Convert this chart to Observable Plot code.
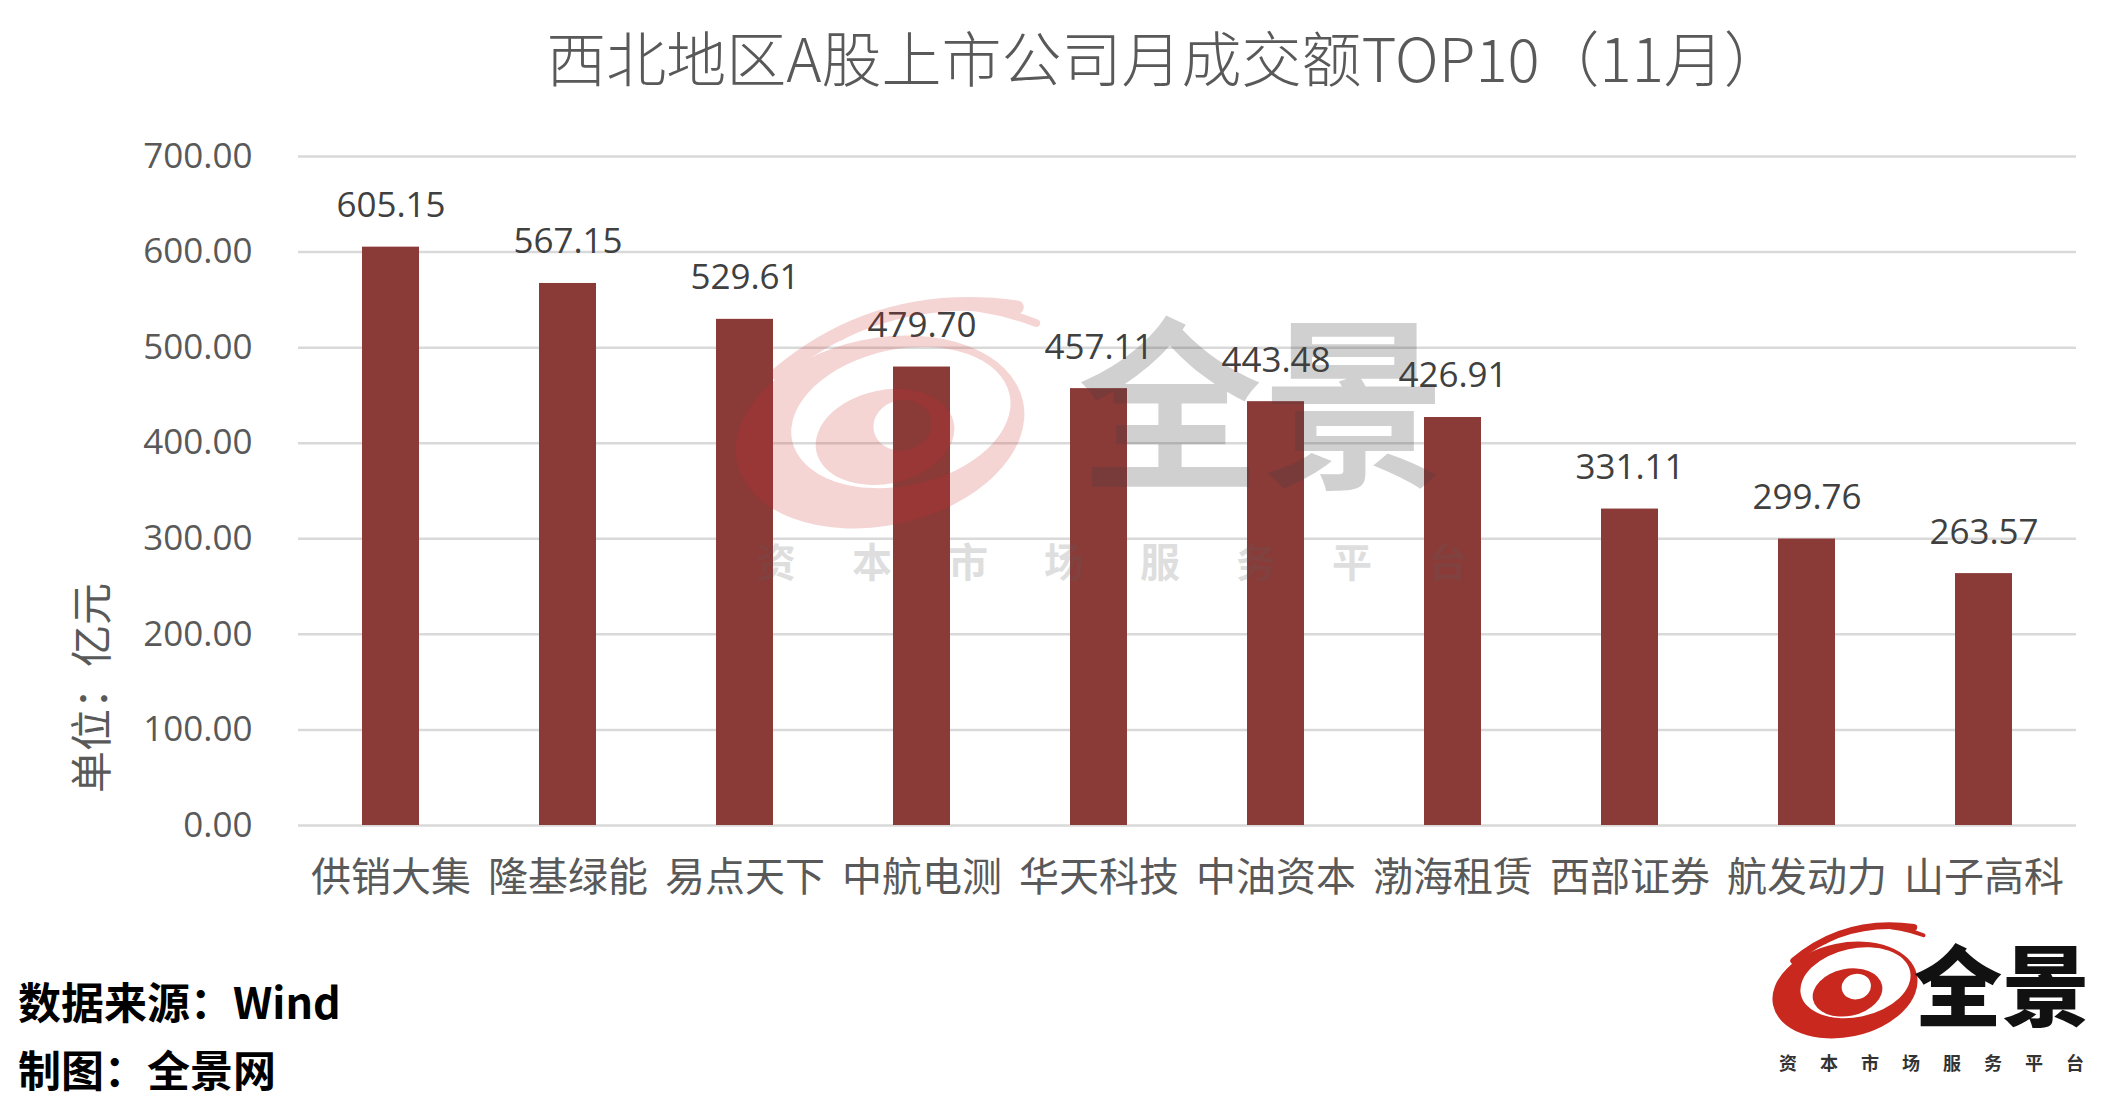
<!DOCTYPE html>
<html><head><meta charset="utf-8">
<script src="https://cdn.jsdelivr.net/npm/d3@7"></script>
<script src="https://cdn.jsdelivr.net/npm/@observablehq/plot@0.6"></script>
<style>
html,body{margin:0;padding:0;background:#fff;}
#wrap{position:relative;width:2106px;height:1100px;overflow:hidden;background:#fff;font-family:"Noto Sans CJK SC","Noto Sans",sans-serif;}
#title{position:absolute;left:1165px;top:14px;transform:translateX(-50%);white-space:nowrap;font-size:60px;color:#595959;line-height:84px;font-weight:300;}
#chart{position:absolute;left:0;top:120px;}
.foot{position:absolute;left:18px;font-weight:700;font-size:43px;color:#000;line-height:60px;}
#overlay{position:absolute;left:0;top:0;pointer-events:none;}
</style></head><body>
<div id="wrap">
  <div id="title">西北地区A股上市公司月成交额TOP10（11月）</div>
  <div id="chart"></div>
  <div class="foot" style="top:970px">数据来源：Wind</div>
  <div class="foot" style="top:1038px">制图：全景网</div>
</div>
<script>
const companies = ["供销大集","隆基绿能","易点天下","中航电测","华天科技","中油资本","渤海租赁","西部证券","航发动力","山子高科"];
const amounts = [605.15, 567.15, 529.61, 479.70, 457.11, 443.48, 426.91, 331.11, 299.76, 263.57];
const yTicks = [0, 100, 200, 300, 400, 500, 600, 700];

const data = companies.map((name, i) => ({name, value: amounts[i]}));

const chart = Plot.plot({
  width: 2106,
  height: 800,
  marginLeft: 298,
  marginRight: 30,
  marginTop: 36,
  marginBottom: 95,
  x: {domain: companies, paddingInner: 0.68, paddingOuter: 0.34, label: null},
  y: {domain: [0, 700], label: null},
  style: {background: "transparent", fontFamily: "'Noto Sans CJK SC', sans-serif", overflow: "visible"},
  marks: [
    Plot.ruleY(yTicks, {stroke: "#d9d9d9", strokeWidth: 2.5}),
    Plot.barY(data, {x: "name", y: "value", fill: "#8A3A37"}),
    Plot.text(data, {x: "name", y: "value", text: d => d.value.toFixed(2), lineAnchor: "bottom", dy: -30,
      fontSize: 35, fill: "#404040", fontFamily: "'Open Sans', sans-serif"}),
    Plot.axisY({ticks: yTicks, tickFormat: d3.format(".2f"), tickSize: 0, tickPadding: 46, fontSize: 35,
      color: "#595959", fontFamily: "'Open Sans', sans-serif", label: null}),
    Plot.axisX({tickSize: 0, tickPadding: 37, fontSize: 40, color: "#595959", label: null})
  ]
});
document.getElementById("chart").appendChild(chart);

// overlay: y label, watermark and logo
const ov = d3.select("#wrap").append("svg").attr("id", "overlay").attr("width", 2106).attr("height", 1100);

ov.append("text").attr("transform", "translate(88,688) rotate(-90)").attr("text-anchor", "middle")
  .attr("dominant-baseline", "central").attr("font-size", 42).attr("fill", "#595959")
  .attr("font-family", "'Noto Sans CJK SC'").text("单位：亿元");

function ell(cx, cy, rx, ry) {
  return `M${cx - rx},${cy}A${rx},${ry} 0 1 0 ${cx + rx},${cy}A${rx},${ry} 0 1 0 ${cx - rx},${cy}Z`;
}
function swirl(g, color) {
  const s = g.append("g").attr("transform", "rotate(-12)");
  s.append("path").attr("fill", color).attr("fill-rule", "evenodd")
    .attr("d", ell(0, 0, 75, 48) + ell(12, -5, 57, 35));
  s.append("path").attr("fill", color).attr("fill-rule", "evenodd")
    .attr("d", ell(2, 3, 36, 24) + ell(12, -1, 15, 13));
  s.append("path").attr("fill", "none").attr("stroke", color).attr("stroke-width", 7)
    .attr("stroke-linecap", "round").attr("d", "M-45,-40 Q15,-72 82,-48");
  s.append("path").attr("fill", "none").attr("stroke", color).attr("stroke-width", 4)
    .attr("stroke-linecap", "round").attr("d", "M-10,-52 Q40,-70 90,-38");
}

// watermark
const wm = ov.append("g");
swirl(wm.append("g").attr("opacity", 0.2).attr("transform", "translate(880,432) scale(1.95)"), "#d03030");
wm.append("text").attr("x", 1262).attr("y", 394).attr("text-anchor", "middle").attr("dominant-baseline", "central")
  .attr("opacity", 0.24).attr("font-size", 184).attr("font-weight", 700).attr("fill", "#404040")
  .attr("font-family", "'Noto Sans CJK SC'").text("全景");
wm.append("text").attr("x", 756).attr("y", 560).attr("dominant-baseline", "central")
  .attr("font-size", 40).attr("font-weight", 700).attr("fill", "#606060").attr("opacity", 0.2)
  .attr("letter-spacing", "56px").attr("font-family", "'Noto Sans CJK SC'").text("资本市场服务平台");

// corner logo
const lg = ov.append("g");
swirl(lg.append("g").attr("transform", "translate(1845,990) scale(0.98)"), "#C8281E");
lg.append("text").attr("x", 2002).attr("y", 980).attr("text-anchor", "middle").attr("dominant-baseline", "central")
  .attr("font-size", 88).attr("font-weight", 900).attr("fill", "#111")
  .attr("font-family", "'Noto Sans CJK SC'").text("全景");
lg.append("text").attr("x", 1779).attr("y", 1062).attr("dominant-baseline", "central")
  .attr("font-size", 18).attr("font-weight", 700).attr("fill", "#333")
  .attr("letter-spacing", "23px").attr("font-family", "'Noto Sans CJK SC'").text("资本市场服务平台");
</script>
</body></html>
